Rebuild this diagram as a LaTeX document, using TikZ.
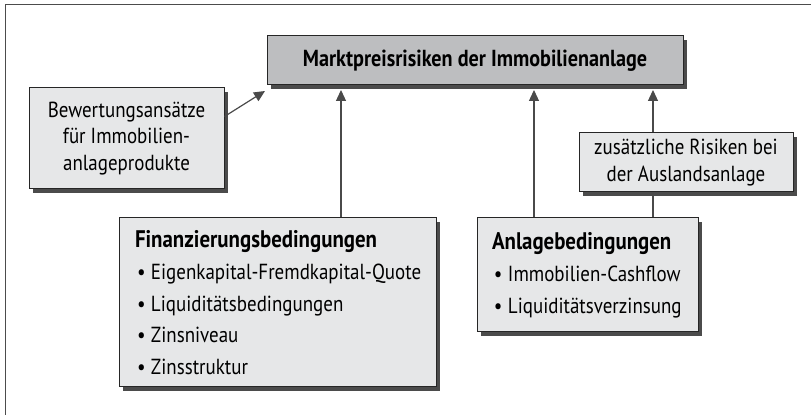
\documentclass[tikz,border=0pt]{standalone}
\usepackage{fontspec}
\setmainfont{PT Sans}[FakeStretch=0.87]
\usetikzlibrary{shadows,arrows.meta}
\definecolor{boxgray}{HTML}{E6E7E8}
\definecolor{headgray}{HTML}{BDBEC0}
\definecolor{shadowgray}{HTML}{4B4B4B}
\definecolor{linegray}{HTML}{4A4A4A}
\newcommand{\bitem}[1]{\mbox{\hspace*{1pt}\makebox[7pt][l]{\textbullet}#1}}
\newcommand{\bhead}[1]{\mbox{\fontsize{12}{15.8}\selectfont\bfseries #1}}

\begin{document}
\begin{tikzpicture}
[x=0.5pt,y=-0.5pt,
  boxdecorate/.style={draw=black!85,line width=0.5pt,fill=boxgray,inner sep=0pt,
    drop shadow={shadow xshift=2pt,shadow yshift=-2pt,fill=shadowgray,opacity=1},
    font=\fontsize{10.9}{13.2}\selectfont},
  headdecorate/.style={boxdecorate,fill=headgray,font=\fontsize{11.6}{13}\selectfont\bfseries},
  listdecorate/.style={boxdecorate,align=left,font=\fontsize{10.9}{15.8}\selectfont},
  linedecorate/.style={draw=linegray,line width=0.6pt},
  arrowdecorate/.style={linedecorate,-{Triangle[length=5.5pt,width=5pt]}},
  framedecorate/.style={draw=black!70,line width=0.75pt}]
\useasboundingbox (0,0) rectangle (811,415);
\draw[framedecorate] (5.5,430) |- (830,4.5);
%% nodes or boxes
\node (market) at (475,60.5) [headdecorate,minimum width=208pt,minimum height=24.5pt]
  {Marktpreisrisiken der Immobilienanlage};
\node (bewertung) at (126.5,138.5) [boxdecorate,align=center,minimum width=97.5pt,minimum height=50.5pt]
  {Bewertungsansätze\\für Immobilien-\\anlageprodukte};
\node (ausland) at (686,162.5) [boxdecorate,align=center,minimum width=107pt,minimum height=29.5pt]
  {zusätzliche Risiken bei\\der Auslandsanlage};
\node (finanz) at (277.5,302.5) [listdecorate,inner xsep=8pt,text width=142.5pt,minimum height=84.5pt]
  {\bhead{Finanzierungsbedingungen}\\[0.5pt]
   \bitem{Eigenkapital-Fremdkapital-Quote}\\
   \bitem{Liquiditätsbedingungen}\\
   \bitem{Zinsniveau}\\
   \bitem{Zinsstruktur}};
\node (anlage) at (587.5,275) [listdecorate,inner xsep=7.5pt,text width=95.5pt,minimum height=57pt]
  {\bhead{Anlagebedingungen}\\[0.5pt]
   \bitem{Immobilien-Cashflow}\\
   \bitem{Liquiditätsverzinsung}};
%% edges or arrows
\foreach \tip/\x/\source in {f/341/finanz, a/534/anlage, z/653/ausland} {
  \coordinate (tip\tip) at (\x,90);
  \draw[arrowdecorate] (tip\tip |- \source.north) -- (tip\tip);
}
\draw[linedecorate] (tipz |- anlage.north) -- (tipz |- ausland.south);
\coordinate (tipb) at (265,91);
\draw[arrowdecorate] ([yshift=-14.5pt]bewertung.north east) -- (tipb);
\end{tikzpicture}
\end{document}
